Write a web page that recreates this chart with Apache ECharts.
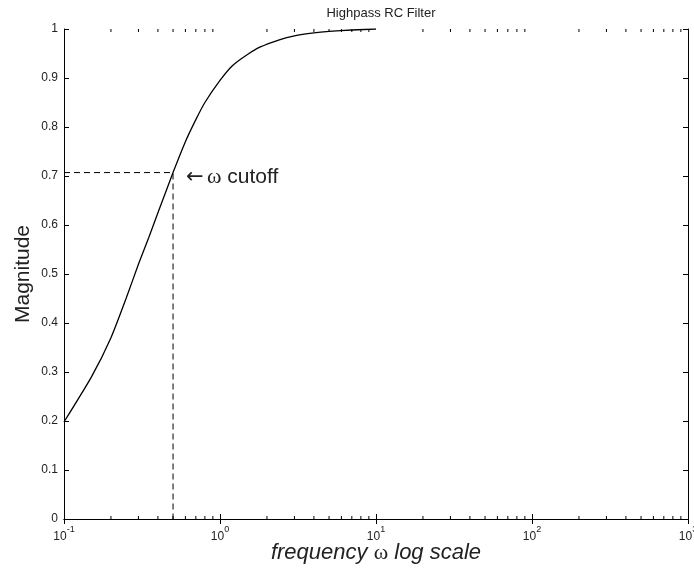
<!DOCTYPE html>
<html>
<head>
<meta charset="utf-8">
<script src="https://cdn.jsdelivr.net/npm/echarts@6/dist/echarts.min.js"></script>
<style>
  html, body { margin: 0; padding: 0; background: #fff; }
  #chart { width: 694px; height: 569px; }
</style>
</head>
<body>
<div id="chart"></div>
<script>
// response curve
const freq = [0.1, 0.15, 0.2, 0.25, 0.3, 0.35, 0.4, 0.5, 0.6, 0.7, 0.8, 1, 1.2, 1.5, 1.8, 2.4, 3, 4, 5, 7, 10];
const magnitude = [0.198, 0.29, 0.37, 0.45, 0.52, 0.575, 0.625, 0.707, 0.77, 0.815, 0.85, 0.895, 0.925, 0.948, 0.963, 0.978, 0.986, 0.992, 0.995, 0.998, 1.0];

// cutoff guide
const cutoffFreq = 0.5;
const cutoffMag = 0.707;

// minor ticks on the log axis
const minorTicks = [0.2, 0.3, 0.4, 0.5, 0.6, 0.7, 0.8, 0.9,
  2, 3, 4, 5, 6, 7, 8, 9,
  20, 30, 40, 50, 60, 70, 80, 90,
  200, 300, 400, 500, 600, 700, 800, 900];

const font = 'Liberation Sans, Arial, sans-serif';
const chart = echarts.init(document.getElementById('chart'));

const curveData = freq.map((f, i) => [f, magnitude[i]]);
const guideData = [[0.1, cutoffMag], [cutoffFreq, cutoffMag], [cutoffFreq, 0]];

function expLabel(v) {
  const e = Math.round(Math.log10(v));
  return '{b|10}{s|' + e + '}';
}

const labelRich = {
  b: { fontSize: 12, fontFamily: font, color: '#222', lineHeight: 18, verticalAlign: 'bottom' },
  s: { fontSize: 9, fontFamily: font, color: '#222', verticalAlign: 'top' }
};

const axisBase = {
  axisLine: { show: true, lineStyle: { color: '#000', width: 1 } },
  splitLine: { show: false },
  axisTick: { show: true, inside: true, length: 5, lineStyle: { color: '#000' } }
};

chart.setOption({
  animation: false,
  title: {
    text: 'Highpass RC Filter',
    left: 376,
    top: 2,
    textAlign: 'center',
    textStyle: { fontSize: 13, fontWeight: 'normal', fontFamily: font, color: '#222' }
  },
  grid: { left: 64, right: 6, top: 29, bottom: 50, outerBoundsMode: 'none' },
  xAxis: [
    Object.assign({}, axisBase, {
      type: 'log',
      logBase: 10,
      min: 0.1,
      max: 1000,
      position: 'bottom',
      axisLabel: {
        formatter: expLabel,
        rich: labelRich,
        margin: 6
      },
      name: '{i|frequency }{w|ω}{i| log scale}',
      nameLocation: 'middle',
      nameGap: 23,
      nameMoveOverlap: false,
      nameTextStyle: {
        rich: {
          i: { fontSize: 22, fontStyle: 'italic', fontFamily: font, color: '#222' },
          w: { fontSize: 22, fontFamily: 'Liberation Serif, serif', color: '#222' }
        }
      }
    }),
    Object.assign({}, axisBase, {
      type: 'log',
      logBase: 10,
      min: 0.1,
      max: 1000,
      position: 'top',
      axisLabel: { show: false }
    })
  ],
  yAxis: [
    Object.assign({}, axisBase, {
      type: 'value',
      min: 0,
      max: 1,
      interval: 0.1,
      axisLabel: {
        fontSize: 12,
        fontFamily: font,
        color: '#222',
        margin: 6,
        formatter: v => String(Math.round(v * 10) / 10)
      },
      name: 'Magnitude',
      nameLocation: 'middle',
      nameGap: 30,
      nameMoveOverlap: false,
      nameTextStyle: { fontSize: 21, fontFamily: font, color: '#222' }
    }),
    Object.assign({}, axisBase, {
      type: 'value',
      min: 0,
      max: 1,
      interval: 0.1,
      position: 'right',
      axisLabel: { show: false }
    })
  ],
  series: [
    {
      type: 'line',
      data: curveData,
      showSymbol: false,
      smooth: 0.2,
      lineStyle: { color: '#000', width: 1.3 },
      z: 3
    },
    {
      type: 'line',
      data: guideData,
      showSymbol: false,
      lineStyle: { color: '#000', width: 1, type: [6, 4] },
      markPoint: {
        symbol: 'circle',
        symbolSize: 0,
        data: [{ coord: [cutoffFreq, cutoffMag] }],
        label: {
          show: true,
          position: 'right',
          distance: 13,
          offset: [0, 5],
          formatter: '{a|←} {w|ω}{t| cutoff}',
          rich: {
            a: { fontSize: 21, fontFamily: 'DejaVu Sans, sans-serif', color: '#222' },
            w: { fontSize: 22, fontFamily: 'Liberation Serif, serif', color: '#222' },
            t: { fontSize: 21, fontFamily: font, color: '#222' }
          }
        }
      }
    },
    {
      type: 'custom',
      data: minorTicks.map(v => [v]),
      clip: false,
      silent: true,
      renderItem: function (params, api) {
        const v = api.value(0);
        const bottom = api.coord([v, 0]);
        const top = api.coord([v, 1]);
        const style = { stroke: '#000', lineWidth: 1 };
        return {
          type: 'group',
          children: [
            { type: 'line', shape: { x1: bottom[0], y1: bottom[1], x2: bottom[0], y2: bottom[1] - 3 }, style: style },
            { type: 'line', shape: { x1: top[0], y1: top[1], x2: top[0], y2: top[1] + 3 }, style: style }
          ]
        };
      }
    }
  ]
});
</script>
</body>
</html>
